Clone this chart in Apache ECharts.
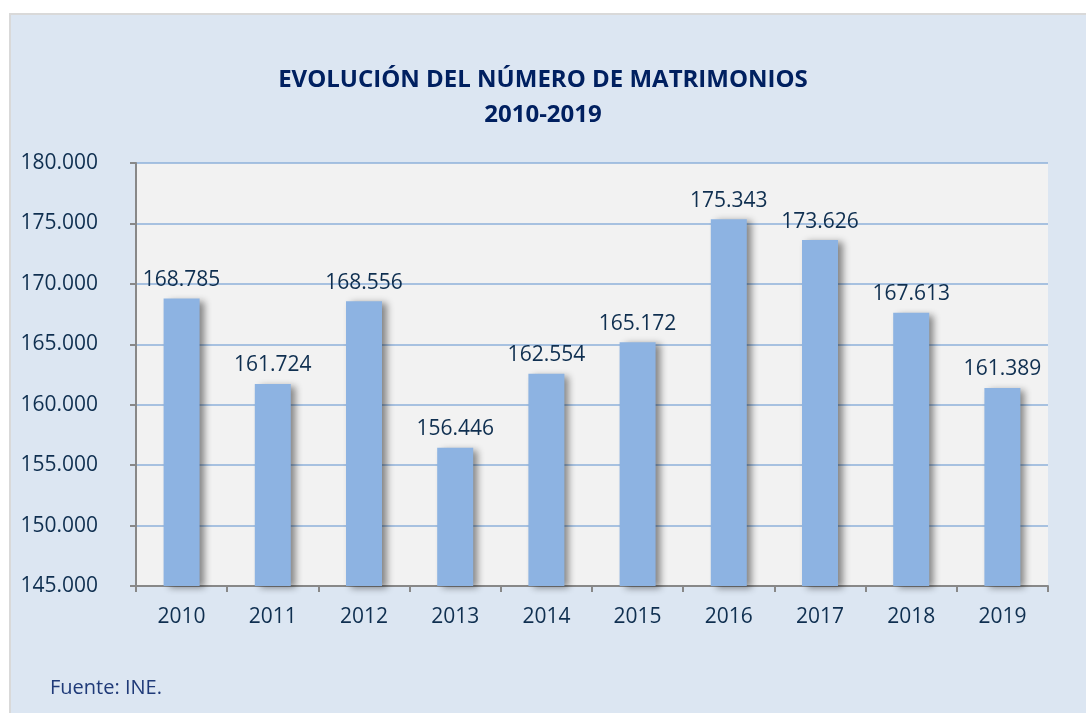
<!DOCTYPE html>
<html>
<head>
<meta charset="utf-8">
<script src="https://cdn.jsdelivr.net/npm/echarts@6/dist/echarts.min.js"></script>
<style>
html,body{margin:0;padding:0;background:#fff;width:1086px;height:713px;overflow:hidden;}
#panel{position:absolute;left:9px;top:13px;width:1080px;height:710px;background:#dce6f2;border:2px solid #d9d9d9;box-sizing:border-box;}
#chart{position:absolute;left:0;top:0;width:1086px;height:713px;}
</style>
</head>
<body>
<div id="panel"></div>
<div id="chart"></div>
<script>
const categories = ['2010','2011','2012','2013','2014','2015','2016','2017','2018','2019'];
const matrimonios = [168785, 161724, 168556, 156446, 162554, 165172, 175343, 173626, 167613, 161389];
const titleLines = ['EVOLUCIÓN DEL NÚMERO DE MATRIMONIOS', '2010-2019'];
const sourceText = 'Fuente: INE.';

function fmt(v){ return String(v).replace(/\B(?=(\d{3})+(?!\d))/g, '.'); }

const chart = echarts.init(document.getElementById('chart'), null, {renderer:'canvas'});
const FONT = '"Open Sans", "Liberation Sans", sans-serif';
chart.setOption({
  backgroundColor: 'transparent',
  animation: false,
  title: {
    text: titleLines.join('\n'),
    left: 'center',
    top: 58,
    textStyle: {fontFamily: FONT, fontSize: 24, fontWeight: 'bold', color: '#002060', lineHeight: 35}
  },
  grid: {left: 136, top: 163, right: 38, bottom: 127, show: true, backgroundColor: '#f2f2f2', borderWidth: 0},
  xAxis: {
    type: 'category',
    data: categories,
    axisLine: {lineStyle: {color: '#888888', width: 2}},
    axisTick: {show: true, length: 6, lineStyle: {color: '#888888', width: 2}},
    axisLabel: {fontFamily: FONT, fontSize: 21, color: '#0f2f50', margin: 21}
  },
  yAxis: {
    type: 'value',
    min: 145000, max: 180000, interval: 5000,
    axisLine: {show: true, lineStyle: {color: '#888888', width: 2}},
    axisTick: {show: true, length: 6, lineStyle: {color: '#888888', width: 2}},
    splitLine: {lineStyle: {color: '#8eb0da', width: 1.5}},
    axisLabel: {fontFamily: FONT, fontSize: 21, color: '#0f2f50', margin: 38, formatter: fmt}
  },
  series: [{
    type: 'bar',
    data: matrimonios,
    barWidth: 36,
    itemStyle: {color: '#8db3e2', shadowColor: 'rgba(0,0,0,0.45)', shadowBlur: 7, shadowOffsetX: 5, shadowOffsetY: 2},
    label: {show: true, position: 'top', distance: 8, fontFamily: FONT, fontSize: 21, color: '#0f2f50', formatter: p => fmt(p.value)}
  }],
  graphic: [{
    type: 'text', left: 50, top: 678,
    style: {text: sourceText, fontFamily: FONT, fontSize: 20, fill: '#1f3a78'}
  }]
});
</script>
</body>
</html>
